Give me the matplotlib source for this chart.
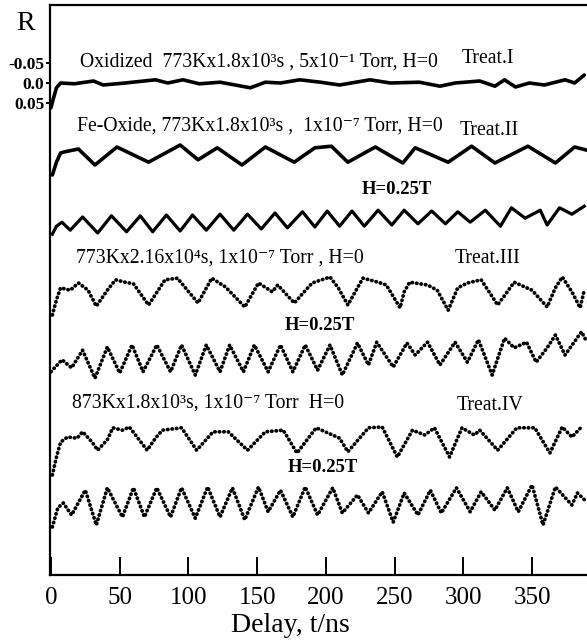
import matplotlib
matplotlib.use("Agg")
import matplotlib.pyplot as plt

plt.rcParams['font.family'] = ['Liberation Serif', 'DejaVu Serif']

# delay (ns) and R, one pair of lists per trace
t_1 = [0, 1.5, 4, 7, 17, 31, 38, 54, 76, 85, 96, 108, 123, 145, 156, 167, 181, 196, 210,
       232, 247, 268, 283, 294, 312, 323, 330, 338, 348, 359, 374, 381, 388]
r_1 = [0.062, 0.042, 0.012, 0.0, 0.002, -0.005, 0.005, 0.0, -0.008, 0.0, -0.008, 0.002,
       -0.002, 0.012, -0.002, 0.0, -0.008, -0.002, 0.005, -0.008, 0.0, -0.002, 0.008, 0.0,
       -0.005, 0.008, -0.008, 0.010, 0.0, 0.005, -0.008, 0.0, -0.020]

t_2 = [1, 4, 7, 10, 20, 32, 48, 71, 94, 107, 121, 139, 156, 177, 192, 204, 216, 236, 256,
       265, 289, 306, 323, 347, 367, 381, 390]
r_2 = [0.230, 0.198, 0.175, 0.172, 0.165, 0.205, 0.160, 0.198, 0.155, 0.192, 0.162, 0.205,
       0.160, 0.198, 0.162, 0.158, 0.198, 0.160, 0.200, 0.162, 0.198, 0.158, 0.200, 0.158,
       0.200, 0.160, 0.168]

t_3 = [1, 4, 8, 14, 23, 34, 44, 55, 65, 74, 84, 94, 103, 113, 123, 133, 143, 153, 163, 172,
       183, 192, 201, 210, 219, 228, 238, 248, 257, 267, 277, 287, 296, 305, 316, 327, 335,
       345, 356, 361, 370, 379, 388]
r_3 = [0.378, 0.358, 0.348, 0.368, 0.335, 0.375, 0.332, 0.372, 0.332, 0.372, 0.330, 0.370,
       0.330, 0.368, 0.328, 0.368, 0.328, 0.365, 0.325, 0.362, 0.322, 0.360, 0.320, 0.358,
       0.320, 0.358, 0.318, 0.355, 0.318, 0.352, 0.320, 0.352, 0.322, 0.348, 0.318, 0.358,
       0.312, 0.338, 0.318, 0.355, 0.312, 0.328, 0.308]

t_4 = [1, 4, 7, 14, 20, 27, 33, 41, 47, 54, 60, 71, 83, 92, 107, 117, 127, 141, 151, 161,
       165, 177, 190, 203, 209, 216, 223, 227, 238, 244, 254, 257, 261, 274, 281, 289, 296,
       303, 313, 325, 332, 337, 350, 361, 367, 372, 379, 385, 388]
r_4 = [0.580, 0.542, 0.512, 0.518, 0.500, 0.518, 0.558, 0.518, 0.492, 0.498, 0.502, 0.555,
       0.492, 0.488, 0.550, 0.488, 0.510, 0.560, 0.500, 0.522, 0.505, 0.550, 0.500, 0.485,
       0.512, 0.555, 0.512, 0.488, 0.498, 0.505, 0.562, 0.522, 0.498, 0.505, 0.518, 0.568,
       0.512, 0.500, 0.492, 0.555, 0.522, 0.498, 0.518, 0.560, 0.512, 0.485, 0.522, 0.562,
       0.518]

t_5 = [0, 8, 15, 23, 32, 41, 50, 59, 67, 77, 87, 95, 105, 113, 123, 130, 140, 148, 158, 167,
       176, 185, 194, 203, 212, 223, 231, 237, 249, 259, 265, 274, 283, 294, 303, 311, 321,
       330, 337, 346, 353, 361, 367, 374, 386, 390]
r_5 = [0.722, 0.692, 0.712, 0.668, 0.738, 0.660, 0.725, 0.655, 0.722, 0.655, 0.722, 0.655,
       0.730, 0.655, 0.722, 0.655, 0.722, 0.655, 0.722, 0.655, 0.722, 0.655, 0.718, 0.655,
       0.730, 0.650, 0.705, 0.648, 0.710, 0.650, 0.680, 0.648, 0.705, 0.648, 0.698, 0.642,
       0.730, 0.638, 0.662, 0.648, 0.698, 0.662, 0.630, 0.680, 0.622, 0.648]

t_6 = [1, 4, 7, 12, 19, 23, 30, 34, 41, 45, 52, 57, 70, 76, 81, 95, 106, 118, 129, 143, 156,
       169, 179, 193, 210, 216, 231, 241, 252, 263, 272, 279, 290, 299, 308, 312, 325, 339,
       352, 363, 372, 379, 386]
r_6 = [0.980, 0.935, 0.898, 0.885, 0.888, 0.872, 0.898, 0.918, 0.892, 0.862, 0.868, 0.860,
       0.918, 0.888, 0.868, 0.862, 0.918, 0.872, 0.872, 0.918, 0.872, 0.868, 0.925, 0.862,
       0.888, 0.922, 0.862, 0.860, 0.935, 0.868, 0.880, 0.862, 0.935, 0.862, 0.880, 0.868,
       0.918, 0.862, 0.862, 0.925, 0.860, 0.885, 0.860]

t_7 = [1, 5, 9, 15, 25, 33, 41, 52, 60, 68, 77, 87, 95, 105, 114, 123, 132, 141, 151, 158,
       167, 176, 185, 194, 205, 212, 223, 231, 241, 249, 257, 267, 276, 284, 295, 305, 313,
       323, 332, 340, 350, 358, 367, 379, 383, 390]
r_7 = [1.110, 1.062, 1.050, 1.080, 1.018, 1.105, 1.012, 1.085, 1.012, 1.085, 1.012, 1.085,
       1.012, 1.088, 1.010, 1.085, 1.012, 1.092, 1.010, 1.072, 1.018, 1.085, 1.010, 1.080,
       1.012, 1.075, 1.030, 1.075, 1.022, 1.098, 1.025, 1.080, 1.018, 1.075, 1.012, 1.072,
       1.022, 1.068, 1.012, 1.072, 1.005, 1.105, 1.010, 1.055, 1.025, 1.048]

x_ticks = [0, 50, 100, 150, 200, 250, 300, 350]
y_ticks = [-0.05, 0.0, 0.05]
y_tick_labels = ['-0.05', '0.0', '0.05']

fig = plt.figure(figsize=(5.87, 6.44), dpi=100)
ax = fig.add_axes([50 / 587, 69 / 644, 537 / 587, 570 / 644])

solid = dict(color='black', lw=2.6, solid_capstyle='round', solid_joinstyle='round')
dots = dict(color='black', lw=2.7, linestyle=(0, (0.1, 1.1)), dash_capstyle='round')

ax.plot(t_1, r_1, **solid)
ax.plot(t_2, r_2, **solid)
ax.plot(t_3, r_3, color='black', lw=2.3, solid_joinstyle='round')
ax.plot(t_4, r_4, **dots)
ax.plot(t_5, r_5, **dots)
ax.plot(t_6, r_6, **dots)
ax.plot(t_7, r_7, **dots)

ax.set_xlim(-0.7, 390)
ax.set_ylim(1.23, -0.195)

ax.spines['right'].set_visible(False)
for s in ['left', 'bottom', 'top']:
    ax.spines[s].set_linewidth(1.6)

ax.set_xticks(x_ticks)
ax.set_xticks([100, 200, 300], minor=True)
ax.tick_params(axis='x', which='major', direction='in', length=13, width=1.4,
               labelsize=18, pad=9)
ax.tick_params(axis='x', which='minor', direction='in', length=19, width=1.4)
ax.set_yticks(y_ticks)
ax.set_yticklabels(y_tick_labels, fontweight='bold')
ax.tick_params(axis='y', direction='out', length=3, width=1.4, labelsize=12.5, pad=1)

tfont = dict(fontsize=14.2, va='center', ha='left')
hfont = dict(fontsize=13.5, fontweight='bold', va='center', ha='left')
ax.text(21, -0.052, 'Oxidized  773Kx1.8x10\u00b3s , 5x10\u207b\u00b9 Torr, H=0', **tfont)
ax.text(299, -0.062, 'Treat.I', **tfont)
ax.text(19, 0.108, 'Fe-Oxide, 773Kx1.8x10\u00b3s ,  1x10\u207b\u2077 Torr, H=0', **tfont)
ax.text(297, 0.118, 'Treat.II', **tfont)
ax.text(226, 0.265, 'H=0.25T', **hfont)
ax.text(18, 0.438, '773Kx2.16x10\u2074s, 1x10\u207b\u2077 Torr , H=0', **tfont)
ax.text(294, 0.438, 'Treat.III', **tfont)
ax.text(170, 0.605, 'H=0.25T', **hfont)
ax.text(15, 0.800, '873Kx1.8x10\u00b3s, 1x10\u207b\u2077 Torr  H=0', **tfont)
ax.text(295, 0.805, 'Treat.IV', **tfont)
ax.text(172, 0.962, 'H=0.25T', **hfont)

fig.text(26 / 587, 1 - 24 / 644, 'R', fontsize=20, ha='center', va='center')
fig.text(290 / 587, 1 - 625 / 644, 'Delay, t/ns', fontsize=20, ha='center', va='center')

fig.savefig('out.png', dpi=100)
